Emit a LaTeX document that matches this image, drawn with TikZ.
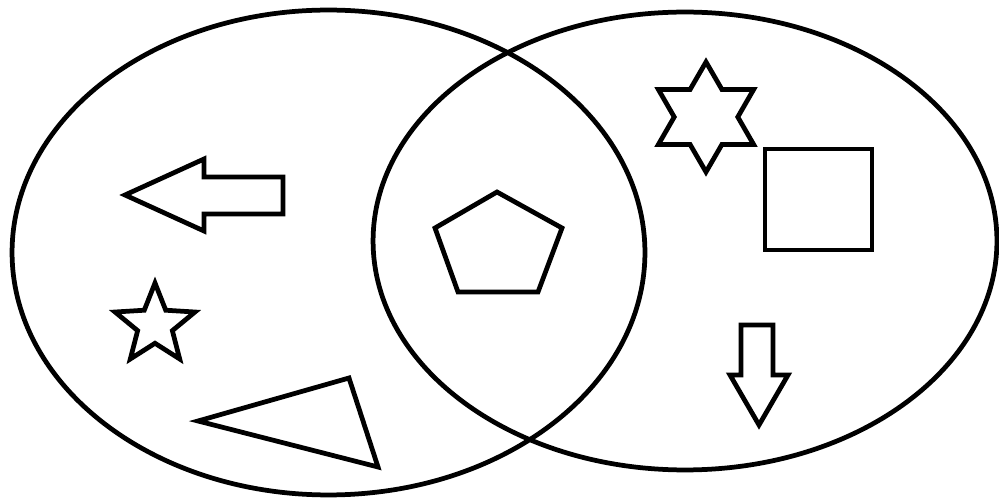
\documentclass[tikz,border=0pt]{standalone}
\usepackage{tikz}
\usetikzlibrary{shapes.geometric}

\begin{document}
\begin{tikzpicture}[x=0.02cm, y=-0.02cm, line width=0.095cm, line join=miter,
  set/.style={draw, ellipse, inner sep=0pt},
  fig/.style={draw, inner sep=0pt}]
  \useasboundingbox (0,0) rectangle (999,502);
  % the two sets
  \node[set, minimum width=12.66cm, minimum height=9.7cm] (setA) at (328.5,252.5) {};
  \node[set, minimum width=12.48cm, minimum height=9.16cm] (setB) at (685,241) {};
  % only in the left set
  \draw (125,195) -- (204,159) -- (204,177) -- (283,177) -- (283,214)
        -- (204,214) -- (204,231) -- cycle;
  \node[fig, star, star points=5, star point ratio=2.3, minimum size=1.68cm] (starA) at (155,325) {};
  \draw (198,421) -- (349,378) -- (378,467) -- cycle;
  % in both sets
  \draw (497,192) -- (562,228) -- (538,292) -- (458,292) -- (435,228) -- cycle;
  % only in the right set
  \node[fig, star, star points=6, star point ratio=1.73, minimum size=2.2cm] (starB) at (706,117) {};
  \node[fig, rectangle, minimum width=2.14cm, minimum height=2.02cm] (box) at (818.5,199.5) {};
  \draw (741,325) -- (773,325) -- (773,375) -- (788,375) -- (759,425)
        -- (730,375) -- (741,375) -- cycle;
\end{tikzpicture}
\end{document}
